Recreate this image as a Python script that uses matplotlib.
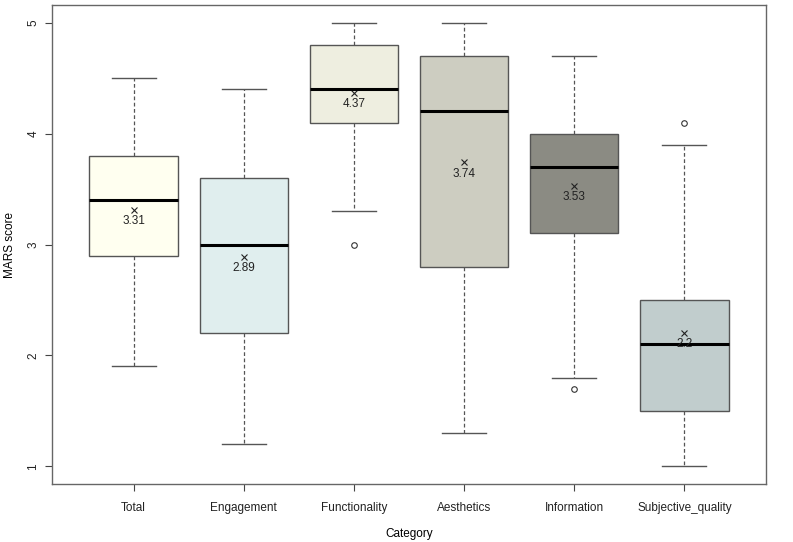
import matplotlib.pyplot as plt

plt.rcParams['font.family'] = ['Liberation Sans', 'DejaVu Sans']

# values
categories = ['Total', 'Engagement', 'Functionality', 'Aesthetics', 'Information', 'Subjective_quality']
whislo = [1.9, 1.2, 3.3, 1.3, 1.8, 1.0]
q1 = [2.9, 2.2, 4.1, 2.8, 3.1, 1.5]
medians = [3.4, 3.0, 4.4, 4.2, 3.7, 2.1]
q3 = [3.8, 3.6, 4.8, 4.7, 4.0, 2.5]
whishi = [4.5, 4.4, 5.0, 5.0, 4.7, 3.9]
means = [3.31, 2.89, 4.37, 3.74, 3.53, 2.2]
outliers = [[], [], [3.0], [], [1.7], [4.1]]
colors = ['#FFFFF0', '#E0EEEE', '#EEEEE0', '#CDCDC1', '#8B8B83', '#C1CDCD']

stats = []
for i, cat in enumerate(categories):
    stats.append({'label': cat, 'whislo': whislo[i], 'q1': q1[i], 'med': medians[i],
                  'q3': q3[i], 'whishi': whishi[i], 'fliers': outliers[i]})

fig = plt.figure(figsize=(7.93, 5.42), dpi=100)
ax = fig.add_axes([52/793, 1 - 484/542, (766 - 52)/793, (484 - 5)/542])

edge = '#555555'
bp = ax.bxp(stats, positions=range(1, 7), widths=0.8, patch_artist=True,
            boxprops=dict(edgecolor=edge, linewidth=1.0),
            whiskerprops=dict(color=edge, linestyle=(0, (3, 2)), linewidth=0.9),
            capprops=dict(color=edge, linewidth=1.0),
            medianprops=dict(color='black', linewidth=2.2),
            flierprops=dict(marker='o', markersize=4, markerfacecolor='none',
                            markeredgecolor='#333333', markeredgewidth=0.8))
for c in bp['caps']:
    x = c.get_xdata()
    m = (x[0] + x[1]) / 2
    c.set_xdata([m - 0.2, m + 0.2])
for patch, col in zip(bp['boxes'], colors):
    patch.set_facecolor(col)

for i, m in enumerate(means):
    ax.plot(i + 1, m, marker='x', color='#222222', markersize=5, markeredgewidth=0.8)
    ax.text(i + 1, m - 0.1, f'{m:g}', ha='center', va='center', fontsize=8.5, color='#222222')

ax.set_xlim(0.26, 6.74)
ax.set_ylim(0.84, 5.16)
ax.set_yticks([1, 2, 3, 4, 5])
ax.set_yticklabels(['1', '2', '3', '4', '5'], rotation=90, va='center', fontsize=8.5)
ax.set_xticks(range(1, 7))
ax.set_xticklabels(categories, fontsize=8.5)
ax.tick_params(axis='both', colors='#444444', labelcolor='#222222', length=5)
ax.tick_params(axis='x', pad=8)
ax.tick_params(axis='y', pad=4)
ax.set_xlabel('Category', fontsize=8.5, labelpad=10)
ax.set_ylabel('MARS score', fontsize=8.5, labelpad=8)
for s in ax.spines.values():
    s.set_color('#666666')
    s.set_linewidth(1.0)

plt.savefig('out.png', dpi=100)
